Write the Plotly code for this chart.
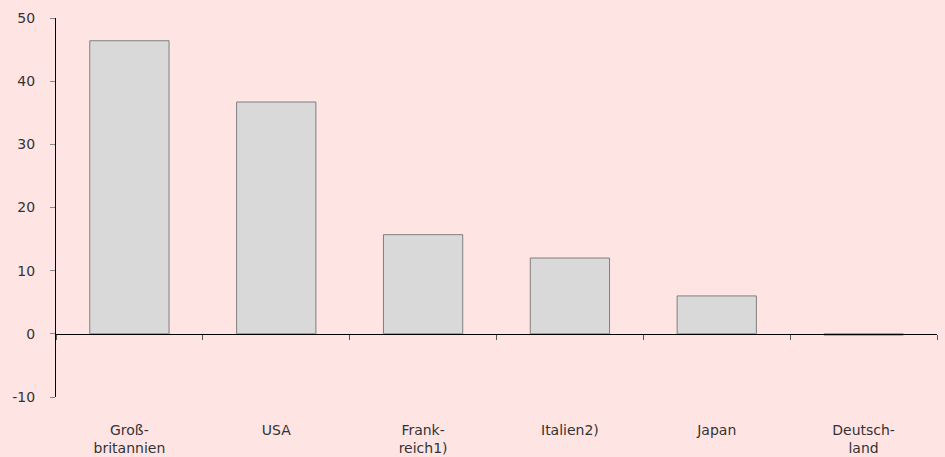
import plotly.graph_objects as go

categories = ["Groß-<br>britannien", "USA", "Frank-<br>reich1)", "Italien2)", "Japan", "Deutsch-<br>land"]
values = [46.4, 36.7, 15.7, 12.0, 6.0, -0.2]
y_ticks = [-10, 0, 10, 20, 30, 40, 50]
y_tick_text = [str(v) for v in y_ticks]

bg = "#FFE4E4"
fig = go.Figure(go.Bar(
    x=categories, y=values,
    marker=dict(color="#D9D9D9", line=dict(color="#7F7F7F", width=1)),
    width=0.54,
))
fig.update_layout(
    width=945, height=457,
    margin=dict(l=56, r=8, t=18, b=60, autoexpand=False),
    paper_bgcolor=bg, plot_bgcolor=bg,
    font=dict(family="DejaVu Sans, sans-serif", size=14, color="#333333"),
    showlegend=False,
    bargap=0.46,
)
fig.update_yaxes(
    range=[-10, 50], tickvals=y_ticks, ticktext=y_tick_text,
    showgrid=False, zeroline=False, automargin=False,
    showline=True, linecolor="black", linewidth=1,
    ticks="outside", ticklen=5, tickcolor="#888888", ticklabelstandoff=12,
)
fig.update_xaxes(
    anchor="free", position=(0 - (-10)) / 60, automargin=False,
    showline=True, linecolor="black", linewidth=1,
    ticks="outside", ticklen=5, tickcolor="#555555", tickson="boundaries",
    showgrid=False, ticklabelstandoff=83,
)
fig.write_html("out.html")
